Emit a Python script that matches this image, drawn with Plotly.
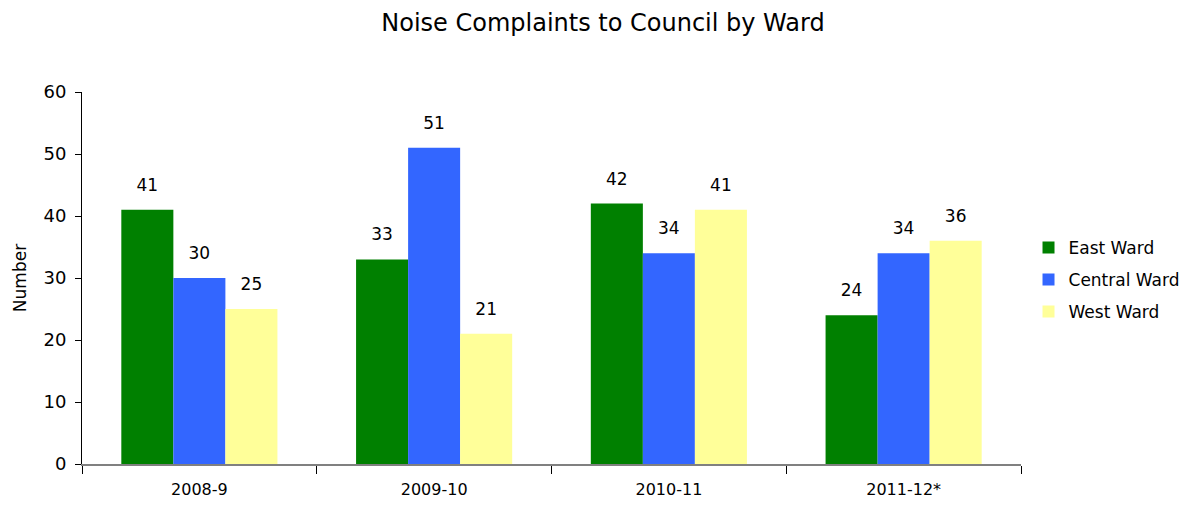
import plotly.graph_objects as go

years = ["2008-9", "2009-10", "2010-11", "2011-12*"]
east = [41, 33, 42, 24]
central = [30, 51, 34, 34]
west = [25, 21, 41, 36]

names = ["East Ward", "Central Ward", "West Ward"]
colors = ["#008000", "#3366FF", "#FFFF99"]

FONT = "'DejaVu Sans', sans-serif"
fig = go.Figure()
for i, (name, vals, col) in enumerate(zip(names, [east, central, west], colors)):
    fig.add_trace(go.Bar(
        x=years, y=vals, name=name, marker_color=col, marker_line_width=0,
        offsetgroup=str(i), legendgroup=str(i),
    ))
for i, (name, vals) in enumerate(zip(names, [east, central, west])):
    fig.add_trace(go.Scatter(
        x=years, y=vals, mode="markers+text", name=name + " labels",
        offsetgroup=str(i), showlegend=False, hoverinfo="skip",
        marker=dict(size=22, opacity=0),
        text=[str(v) for v in vals], textposition="top center",
        textfont=dict(size=17, color="#000000", family=FONT), cliponaxis=False,
    ))

fig.update_layout(
    width=1202, height=508,
    margin=dict(l=70, r=189, t=84, b=52),
    paper_bgcolor="white", plot_bgcolor="white",
    barmode="group", bargap=0.335, bargroupgap=0,
    scattermode="group", scattergap=0.335,
    font=dict(family=FONT, size=16, color="#000000"),
    title=dict(text="Noise Complaints to Council by Ward", x=0.495, xanchor="center",
               y=0.972, yanchor="middle", font=dict(size=24, family=FONT, color="#000000")),
    legend=dict(x=1.008, y=0.495, xanchor="left", yanchor="middle",
                font=dict(size=17, family=FONT), itemsizing="constant",
                tracegroupgap=7),
    showlegend=True,
)
fig.update_xaxes(type="category", showline=True, linecolor="#808080", linewidth=2,
                 ticks="outside", ticklen=8, tickcolor="#000000", tickwidth=1,
                 tickson="boundaries", tickfont=dict(size=16), ticklabelstandoff=10)
fig.update_yaxes(range=[0, 60], dtick=10, showgrid=False, zeroline=False,
                 showline=True, linecolor="#000000", linewidth=1,
                 ticks="outside", ticklen=6, tickcolor="#000000",
                 tickfont=dict(size=18), ticklabelstandoff=5,
                 title=dict(text="Number", font=dict(size=17), standoff=12))
fig.write_html("out.html")
